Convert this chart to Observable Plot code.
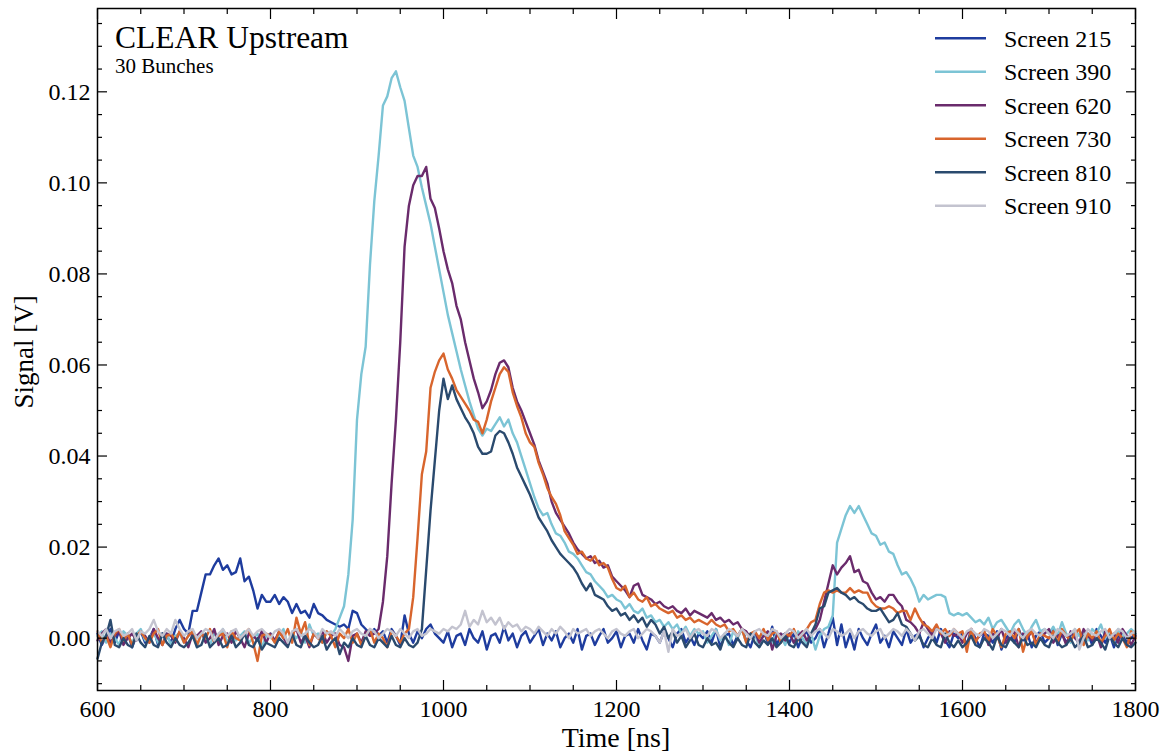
<!DOCTYPE html>
<html><head><meta charset="utf-8">
<script src="https://cdn.jsdelivr.net/npm/d3@7"></script>
<script src="https://cdn.jsdelivr.net/npm/@observablehq/plot@0.6"></script>
<style>
html,body{margin:0;padding:0;background:#fff;}
#chart{position:relative;width:1160px;height:754px;}
</style></head><body><div id="chart"></div>
<script>
// sample grid (ns)
const tStart = 600, tStep = 5;
const screens = ["Screen 215", "Screen 390", "Screen 620", "Screen 730", "Screen 810", "Screen 910"];
const colors = ["#1e3c9e", "#7cc4d5", "#6a2b6c", "#d8652d", "#2a4a6e", "#c3c3cf"];

// signal values in mV, one value every 5 ns from 600 to 1800 ns (rows of 100 ns)
const s215 = [
  1, -1.5, 0.5, 2, -1, 1.5, -0.5, 1, -2, 0.5, 1.5, -1, 0, 2, -1.5, 1, 0.5, -1, 2, 4,
  2, 1, 6, 6, 10, 14, 14, 16, 17.5, 15, 16, 14, 14.5, 17.5, 12.5, 13.5, 10.5, 6.5, 9.5, 8,
  8, 9.5, 7.5, 9, 8, 5.5, 7.5, 5.5, 6, 4.5, 7.5, 5.5, 5, 4, 3.5, 3, 2.5, 3, 2, 6,
  5.5, 3, 2, 1, 2, 0.5, 1.5, -1, 2, 0.5, -1.5, 5, 1, -1, 1.5, 0, 2, 3, 1, 0,
  -1, 1.5, -2, 0.5, 1, -1.5, 2, 0, -1, 1.5, -2.5, 0.5, 1, -1, 2.5, -0.5, 1, -2, 0.5, 1.5,
  -1, 0.5, 2, -1.5, 1, -0.5, 1.5, -2, 0, 1, -1, 2, -2.5, 0.5, 1, -1.5, 0.5, 2, -1, 0,
  1.5, -2, 0.5, 1, -1, 2, -0.5, -2.5, 1, 0.5, -1, 1.5, 0, -2, 1, 2, -1, 0.5, -1.5, 1,
  0, 1.5, -1, 2, -2, 0.5, 1, -1.5, 0.5, 2, -0.5, -2, 1, 0, 1.5, -1, 2.5, -1.5, 0.5, 1,
  -1, 1, -2, 0.5, 1.5, -1, 0, 2, -2, 1, 4.5, -1.5, 3, -2, 1, -2.5, 2, 0, -1.5, 1,
  3, -1, 0.5, -2, 1.5, 0, -1.5, 2, -1, 0.5, 1, -2, 0, 1.5, -1, 2, -0.5, -2, 1, 0,
  1, -1.5, 2, 0, -2, 1, 0.5, -1, 1.5, -2.5, 0, 1, -1, 2, -0.5, 1, -2, 0.5, 1.5, -1,
  0, 2, -1.5, 1, -1, 0.5, 1.5, -2, 0, 1, -1.5, 2, 0.5, -1, 1, -2, 0.5, 1.5, -1, 0,
  1
];
const s390 = [
  0.5, 1.5, -1, 1, 0, -1.5, 1.5, 0.5, -1, 1, 2, -0.5, 0, 1.5, -1, 0.5, 1, -1.5, 0.5, 1,
  -1, 0.5, 1.5, -2, 1, 0, -1.5, 1, 0.5, 2, -1, 1, -0.5, 0.5, 1.5, -1, 0, 1, -2, 0.5,
  1, -1, 0.5, 2, -1.5, 1, 0, 1.5, -1, 3, 0.5, 1, -1, 1.5, 0.5, 2, 4.5, 7, 14, 26,
  48, 58, 64, 82, 96, 106, 117, 119, 123, 124.5, 121, 118, 112, 106, 103.5, 99, 95, 91, 86, 81,
  76, 71, 67, 63, 59, 55.5, 52, 49, 46, 44.5, 46, 45.5, 47, 48.5, 46.5, 48, 45, 43, 40, 37,
  34, 31, 28.5, 27, 27.5, 25, 23, 22.5, 21, 19, 18.5, 17.5, 16, 14.5, 14, 12.5, 11.5, 10.5, 9, 9.5,
  8.5, 8, 6.5, 7.5, 6, 5.5, 6.5, 4.5, 5, 3.5, 4, 2.5, 3.5, 2, 3, 1, 2.5, 0.5, 2, 1,
  1.5, -1, 0.5, 2, -0.5, 1, -1.5, 1.5, 0, 2, -1, 0.5, 1, -2, 1.5, 0, -1, 1, 0.5, -1.5,
  1, -1, 1.5, 0, -1.5, 1, -2.5, 0.5, 2, 2.5, 5, 21, 24, 27, 29, 27.5, 29, 27, 25, 23,
  22.5, 20.5, 21, 19, 18.5, 16, 14, 14.5, 13, 11, 8, 9.5, 8.5, 9, 9.5, 9.5, 9, 5.5, 5, 5.5,
  5, 5.5, 4.5, 3.5, 4, 3, 4.5, 2, 3.5, 4, 2.5, 1, 3, 4, 2, 0.5, 2.5, 4, 1.5, 2,
  1, 2.5, 0.5, 3.5, 1, -1, 2, 0.5, 1.5, -0.5, 2, 1, 3, 0, 1.5, -1, 2, 0.5, 1, 2,
  1
];
const s620 = [
  -0.5, 1, 2, -1, 0.5, 1.5, -1.5, 0, 1, -0.5, 1.5, 0.5, -1, 2, 0, -1.5, 1, 0.5, -1, 1.5,
  0, -2, 1, 0.5, 1.5, -1, 0, 2, -1.5, 0.5, 1, -1, 1.5, 0, -2, 1, 0.5, -0.5, 1.5, -1,
  1, -0.5, 1.5, 0, -1.5, 1, 2, -1, 0.5, -2, 1, 0, 1.5, -1, 0.5, 1, -1.5, -2, -5, 0.5,
  1, -1, 1.5, 0.5, 1, 2, 8, 18, 34, 48, 65, 86, 95, 99.5, 101.5, 101.5, 103.5, 96.5, 94.5, 90,
  85, 81, 78, 73, 70, 65, 61, 57, 54, 50.5, 52, 54.5, 58, 60.5, 61, 59.5, 55, 52, 50, 47.5,
  45, 42.5, 39, 36.5, 34, 30, 27.5, 26, 24.5, 23, 21, 19.5, 18.5, 17.5, 18, 16.5, 17, 15.5, 16, 13.5,
  12.5, 11.5, 10.5, 9, 11.5, 12, 9.5, 9, 8.5, 7.5, 8, 7, 6.5, 7, 6, 5.5, 6.5, 5, 6, 5.5,
  5, 4.5, 5.5, 4, 4.5, 3.5, 4, 3, 3.5, 2, 1.5, 0, 1.5, -1, 0.5, 1.5, -2.5, 0.5, 1, -0.5,
  1, -1, 0.5, 1.5, -0.5, 1, 2, 4, 8, 12, 16, 14, 15.5, 16.5, 18, 14.5, 15, 12.5, 12, 10,
  8.5, 9, 8, 9.5, 9.5, 8, 7, 4, 3.5, 2.5, 1, 3.5, 2, 0.5, 2.5, 1, -1, 1.5, 0.5, 1,
  -1, 1, 2, -0.5, 0.5, 1.5, -1.5, 1, 0, 2, -1, 0.5, 1.5, -2, 1, 0, 1.5, -1, 0.5, 1,
  2, -1, 0.5, 1, -1.5, 1.5, 0, -1, 2, 0.5, -0.5, 1, -2, 1.5, 0, 1, -1, 2, 0.5, -1.5,
  0.5
];
const s730 = [
  1.5, -1, 0.5, -2, 1, 2, -0.5, 1, -1.5, 0.5, 1.5, 0, -1, 1, 2, -1.5, 0.5, 1, -0.5, 1.5,
  -1, 0.5, 1.5, -1.5, 1, 0, 2, -1, 0.5, 1, -2, 1.5, 0, -0.5, 1, 2, -1, -5, 0.5, 1,
  0.5, -1, 1.5, 0, 2, -1, 4.5, 1, 3.5, -1.5, 1, 0, -1, 1.5, 0.5, -2, 1, 0, 2, -1,
  1, -1.5, 0.5, 2, -1, 1, 0, -2, 1.5, 0.5, -1, 1, 2, 9, 22, 36, 41, 55, 58.5, 61,
  62.5, 59, 57, 54.5, 53, 51.5, 50, 48, 47.5, 45, 48, 52, 55, 58, 59.5, 58.5, 54, 51, 48.5, 45,
  43, 42, 38.5, 36, 33, 31, 29.5, 27, 23.5, 22, 20.5, 18.5, 19, 17.5, 17, 18, 16, 16.5, 15.5, 13,
  11, 10.5, 11.5, 9, 10, 8.5, 8, 9, 7, 7.5, 6.5, 6, 5.5, 6, 4.5, 5, 4, 4.5, 3.5, 4,
  3.5, 3, 4, 3, 2.5, 3, 1.5, 2, 0.5, 2, -1, 1, 1.5, 0, 2, -0.5, 1, 1.5, -1, 1,
  0.5, 2, -0.5, 1, 2, 3.5, 4, 7.5, 10, 10.5, 10, 10.5, 10, 10, 11, 10, 10.5, 10, 10, 8,
  7, 6.5, 6.5, 7, 6.5, 5.5, 6, 6, 4, 6.5, 4.5, 3, 2.5, 1.5, 3, 1, 2, 0.5, 2, 1,
  1.5, -3, 2, -1, 1, 1.5, -0.5, 2, 0.5, -2, 1, 1.5, 0, 2, -3, 0.5, 1.5, -1.5, 1, 0.5,
  0, 1.5, -1, 2, 0.5, -0.5, 1, 2, -1.5, 1, 0, 1.5, -1, 0.5, 2, -0.5, 1, 0, -2, 1.5,
  0
];
const s810 = [
  -4.5, -1, 0.5, 4, -1.5, -2, 0, -1.5, -2, 1, -1, -2, 0.5, -1.5, -2, 1, -1, -2, 0, -1.5,
  -2, -1, 0.5, -2, -1.5, 1, -2, -1, 0, -2, -1.5, 0.5, -2, -1, 1, -1.5, -2, 0, -2.5, -1,
  -1.5, -2, 0, -1, -2, 1, -1.5, -2, 0.5, -1, -2, -1.5, 0.5, -2.5, -1, 0, -3.5, -1, -2, 0,
  -1.5, -2, 0.5, -1.5, -2, 0, -1, -2, 0.5, -1.5, -2, 0, -1.5, -2, -1, 2, 15, 28, 39, 50,
  57, 52.5, 55.5, 52.5, 50.5, 48.5, 47, 45, 42, 40.5, 40.5, 41, 44.5, 45.5, 45, 43, 40.5, 37.5, 35.5, 33.5,
  31.5, 29, 26.5, 25, 23.5, 21.5, 20, 18.5, 17.5, 16.5, 15.5, 14, 12, 10.5, 12, 9.5, 9, 8.5, 7, 6,
  6.5, 5, 5.5, 4, 5, 3.5, 4.5, 2.5, 4, 3, 1, 2.5, 0, 1.5, -1, 0.5, -2, -0.5, 1, -1.5,
  -2, 0, -1.5, -1, -2.5, 0.5, -1, -2, 0, -1.5, -2, 1, -1, -2, -0.5, -1.5, 0, -2, -1, 0.5,
  -1.5, -2, 0, -1, -2, 1, 3, 6.5, 7, 10, 10.5, 11, 10, 9.5, 8.5, 9, 8, 7.5, 6.5, 6,
  6, 6.5, 5, 3.5, 4, 5.5, 3, 2.5, 1, -0.5, 0.5, -1.5, -2, 0, -1.5, -2, 1, -1, -2, -0.5,
  -2, -1, 0.5, -1.5, -2, 0, -1, -2.5, 0.5, -1.5, -2, 0, -1, -2, 0.5, -1.5, -1, -2, 0, -1.5,
  -2, 0.5, -1, -2, -1.5, 0, -2, -1, 0.5, -2, -1.5, 0, -1, -2.5, 0.5, -1, -2, 0, -1.5, -2,
  -1
];
const s910 = [
  1.5, 0.5, 2, 0, 1.5, 2, 0.5, 1, 2, -0.5, 1.5, 1, 2, 4, 1.5, 0.5, 2, 1, 4, 2,
  0.5, 1.5, 2, 0, 1, 2, 1.5, -0.5, 1, 2, 0.5, 1.5, 2, 0, 1, 2, 0.5, 1.5, 2, 1,
  0, 1.5, 2, 1, -1, 1.5, 2, 0.5, 1, 2, 1.5, 0, 2, 1, 1.5, 0.5, 2, 1, 0, 1.5,
  2, 1, 0.5, 2, 1.5, 0, 1, 2, 1.5, 0.5, 2, 1, 0, 1.5, 2, 0.5, 1, 2, 1.5, 1,
  2, 1.5, 2.5, 2, 3, 6, 2.5, 4, 3, 6, 3.5, 4.5, 3, 4.5, 2, 3.5, 2.5, 3, 1.5, 2.5,
  2, 1, 2.5, 1.5, 0.5, 2, 1, 2.5, 1.5, 0, 2, 1, 1.5, 2, 0.5, 1.5, 2, 1, 0, 1.5,
  2, 1, 0.5, 1.5, 2, 0, 1, 2, 1.5, 0.5, -1, 1.5, -3, 2, 0.5, 1, 2, 0, 1.5, 2,
  1, 0.5, 2, 1.5, 0, 1, 2, 1.5, 0.5, 2, 1, 0, 1.5, 2, 1, 0.5, 2, 1.5, 0, 1,
  2, 1.5, 0, 1, 2, 0.5, 1.5, 2, 1, 0, 2, 1.5, 0.5, 1, 2, 0, 1.5, 2, 1, 0.5,
  1.5, 2, 0, 1, 2, 1.5, 0.5, 2, 1, -0.5, 1.5, 2, 1, 0, 2, 1.5, 0.5, 1, 2, 1,
  0, 1.5, 2, 1, 0.5, 2, 1.5, 0, 1, 2, 1.5, 0.5, 2, 1, 0, 1.5, 2, 1, 0.5, 2,
  1, 0, 2, 1.5, 0.5, 1, 2, -2.5, 0, 2, 1, 0.5, 1.5, 2, 0, 1, 2, 1.5, 0, 1,
  1.5
];
const seriesValues = [s215, s390, s620, s730, s810, s910];

const xTicks = [600, 800, 1000, 1200, 1400, 1600, 1800];
const xMinorTicks = [650, 700, 750, 850, 900, 950, 1050, 1100, 1150, 1250, 1300, 1350, 1450, 1500, 1550, 1650, 1700, 1750];
const yTicks = [0, 0.02, 0.04, 0.06, 0.08, 0.10, 0.12];
const yMinorTicks = [-0.01, -0.005, 0.005, 0.01, 0.015, 0.025, 0.03, 0.035, 0.045, 0.05, 0.055, 0.065, 0.07, 0.075, 0.085, 0.09, 0.095, 0.105, 0.11, 0.115, 0.125, 0.13, 0.135];

const title = "CLEAR Upstream";
const subtitle = "30 Bunches";
const xLabel = "Time [ns]";
const yLabel = "Signal [V]";

const rows = [];
screens.forEach((name, k) => seriesValues[k].forEach((v, i) => rows.push({screen: name, t: tStart + tStep * i, v: v / 1000})));

const serif = "'Liberation Serif', 'Times New Roman', serif";
const major = 10, minor = 5;
const axisCommon = {stroke: "#000", strokeWidth: 1.2, label: null};

const chart = Plot.plot({
  width: 1160, height: 754,
  marginLeft: 97, marginRight: 25, marginTop: 8, marginBottom: 64,
  style: {fontFamily: serif, fontSize: "24px", color: "#000", background: "#fff"},
  x: {domain: [600, 1800]},
  y: {domain: [-0.0115, 0.1383]},
  color: {domain: screens, range: colors},
  marks: [
    ...screens.map(name => Plot.line(rows.filter(d => d.screen === name), {
      x: "t", y: "v", stroke: "screen", strokeWidth: 2.4, curve: "linear", strokeLinejoin: "round"
    })),
    Plot.frame({stroke: "#000", strokeWidth: 1.5}),
    Plot.axisX({...axisCommon, anchor: "bottom", ticks: xTicks, tickSize: -major, tickPadding: 19, tickFormat: d3.format("d"), fontSize: 24}),
    Plot.axisX({...axisCommon, anchor: "bottom", ticks: xMinorTicks, tickSize: -minor, tickFormat: () => ""}),
    Plot.axisX({...axisCommon, anchor: "top", ticks: xTicks, tickSize: -major, tickFormat: () => ""}),
    Plot.axisX({...axisCommon, anchor: "top", ticks: xMinorTicks, tickSize: -minor, tickFormat: () => ""}),
    Plot.axisY({...axisCommon, anchor: "left", ticks: yTicks, tickSize: -major, tickPadding: 17, tickFormat: d3.format(".2f"), fontSize: 24}),
    Plot.axisY({...axisCommon, anchor: "left", ticks: yMinorTicks, tickSize: -minor, tickFormat: () => ""}),
    Plot.axisY({...axisCommon, anchor: "right", ticks: yTicks, tickSize: -major, tickFormat: () => ""}),
    Plot.axisY({...axisCommon, anchor: "right", ticks: yMinorTicks, tickSize: -minor, tickFormat: () => ""})
  ]
});

document.getElementById("chart").appendChild(chart);

// annotations: title, axis labels, legend
const svg = d3.select(chart);
const ann = svg.append("g").attr("font-family", serif).attr("fill", "#000").attr("text-anchor", "start");
ann.append("text").attr("x", 115).attr("y", 48).attr("font-size", 31.5).attr("text-anchor", "start").text(title);
ann.append("text").attr("x", 115).attr("y", 73).attr("font-size", 21).attr("text-anchor", "start").text(subtitle);
ann.append("text").attr("x", 616).attr("y", 747).attr("font-size", 28).attr("text-anchor", "middle").text(xLabel);
ann.append("text").attr("transform", "translate(33,352) rotate(-90)").attr("font-size", 27).attr("text-anchor", "middle").text(yLabel);

const leg = ann.append("g");
screens.forEach((name, k) => {
  const y = 38.3 + 33.5 * k;
  leg.append("line").attr("x1", 935).attr("x2", 986).attr("y1", y).attr("y2", y)
    .attr("stroke", colors[k]).attr("stroke-width", 2.5);
  leg.append("text").attr("x", 1004).attr("y", y + 8.4).attr("font-size", 24).attr("text-anchor", "start").text(name);
});
</script>
</body></html>
